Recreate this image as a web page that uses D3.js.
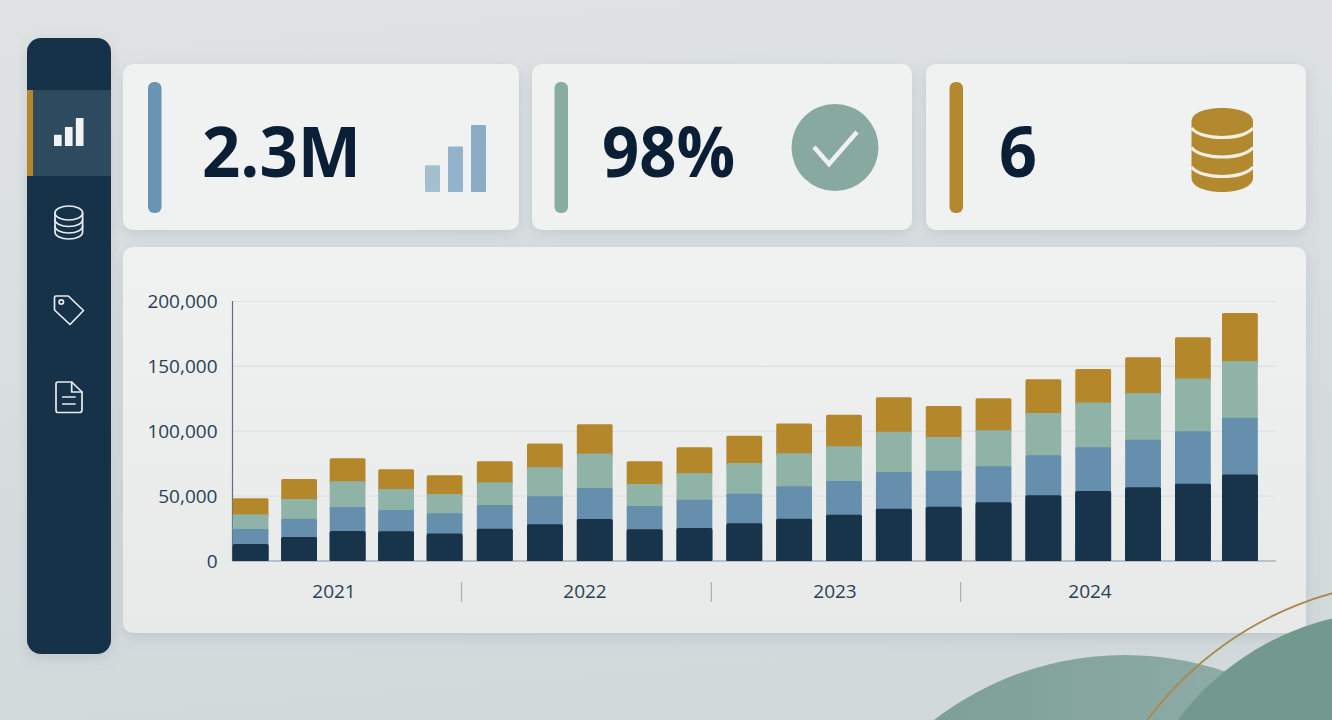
<!DOCTYPE html>
<html lang="en">
<head>
    <meta charset="UTF-8">
    <title>Stacked Quarterly Dashboard</title>
    <script src="https://d3js.org/d3.v7.min.js"></script>
    <style>
        html, body { margin: 0; padding: 0; background: #dde2e3; overflow: hidden; }
        svg { display: block; }
        svg text { font-family: "Open Sans", sans-serif; }
        .kpi { font-weight: 700; fill: #0a1f36; font-size: 70px; }
        .tick text, .year { fill: #2c4054; font-size: 19px; }
        .domain { display: none; }
    </style>
</head>
<body>
    <svg id="chart" width="1332" height="720"></svg>

    <script>
        // Chart values
        const periods = d3.range(1, 22).map(d => "P" + d);
        const years = ["2021", "2022", "2023", "2024"];
        const yTicks = [0, 50000, 100000, 150000, 200000];
        const seriesNames = ["navy", "blue", "green", "gold"];

        const navy = [13100, 18500, 23100, 22900, 21100, 24900, 28300, 32400, 24400, 25400, 29000,
            32600, 35700, 40300, 41900, 45200, 50600, 54000, 56800, 59600, 66600];
        const blue = [11600, 14100, 18500, 16400, 15700, 18300, 21600, 23900, 18000, 21900, 22900,
            25000, 26000, 28300, 27700, 27800, 30900, 33600, 36700, 40400, 43900];
        const green = [11300, 15200, 19800, 16200, 14900, 17500, 22300, 26500, 17000, 20500, 23700,
            25400, 26700, 31100, 26000, 27700, 32600, 34500, 36000, 40600, 43700];
        const gold = [12300, 15400, 17800, 15200, 14300, 16100, 18300, 22600, 17400, 19800, 21000,
            22900, 24400, 26500, 23900, 24700, 26000, 25900, 27500, 31800, 37000];

        const kpiLabels = ["2.3M", "98%", "6"];
        const iconBars = [10, 17, 25];

        const colors = { navy: "#17344b", blue: "#668fae", green: "#8fb3a6", gold: "#b4872b" };

        const rows = periods.map((p, i) => ({
            period: p, navy: navy[i], blue: blue[i], green: green[i], gold: gold[i]
        }));

        const svg = d3.select("#chart");
        const defs = svg.append("defs");

        // Background and card gradients
        const bg = defs.append("linearGradient").attr("id", "bg")
            .attr("x1", 0).attr("y1", 0).attr("x2", 0.15).attr("y2", 1);
        bg.append("stop").attr("offset", 0).attr("stop-color", "#dfe3e4");
        bg.append("stop").attr("offset", 1).attr("stop-color", "#d2d9db");

        const card = defs.append("linearGradient").attr("id", "card")
            .attr("x1", 0).attr("y1", 0).attr("x2", 0).attr("y2", 1);
        card.append("stop").attr("offset", 0).attr("stop-color", "#f0f2f2");
        card.append("stop").attr("offset", 1).attr("stop-color", "#e8eaea");

        const blob = defs.append("linearGradient").attr("id", "blob")
            .attr("x1", 0).attr("y1", 0).attr("x2", 1).attr("y2", 0);
        blob.append("stop").attr("offset", 0.1).attr("stop-color", "#7c9c96");
        blob.append("stop").attr("offset", 0.55).attr("stop-color", "#88a8a1");
        blob.append("stop").attr("offset", 0.85).attr("stop-color", "#9ab3ad");

        const shadow = defs.append("filter").attr("id", "shadow")
            .attr("x", "-10%").attr("y", "-10%").attr("width", "120%").attr("height", "125%");
        shadow.append("feDropShadow").attr("dx", 0).attr("dy", 4)
            .attr("stdDeviation", 7).attr("flood-color", "#6f8189").attr("flood-opacity", 0.22);

        svg.append("rect").attr("width", 1332).attr("height", 720).attr("fill", "url(#bg)");

        // Left blob sits behind the cards
        svg.append("circle").attr("cx", 1125).attr("cy", 968).attr("r", 313).attr("fill", "url(#blob)");

        // Sidebar
        svg.append("rect").attr("x", 27).attr("y", 38).attr("width", 84).attr("height", 616)
            .attr("rx", 14).attr("fill", "#16334a").attr("filter", "url(#shadow)");
        svg.append("rect").attr("x", 27).attr("y", 90).attr("width", 84).attr("height", 86).attr("fill", "#2e4a5e");
        svg.append("rect").attr("x", 27).attr("y", 90).attr("width", 6).attr("height", 86).attr("fill", "#b4872b");

        const sideBars = d3.scaleBand().domain(iconBars).range([54, 83.5]).paddingInner(0.3);
        const sideY = d3.scaleLinear().domain([0, 25]).range([146, 118]);
        svg.append("g").selectAll("rect").data(iconBars).join("rect")
            .attr("x", d => sideBars(d)).attr("width", sideBars.bandwidth())
            .attr("y", d => sideY(d)).attr("height", d => 146 - sideY(d))
            .attr("fill", "#f2f3f3");

        const line = svg.append("g").attr("fill", "none").attr("stroke", "#e8ecee").attr("stroke-width", 1.7)
            .attr("stroke-linejoin", "round").attr("stroke-linecap", "round");
        line.append("ellipse").attr("cx", 68.8).attr("cy", 213).attr("rx", 13.8).attr("ry", 7);
        line.append("path").attr("d", "M55,213V232C55,236 61,239 68.8,239C76.6,239 82.6,236 82.6,232V213");
        line.append("path").attr("d", "M55,219.5C55,223.5 61,226.5 68.8,226.5C76.6,226.5 82.6,223.5 82.6,219.5");
        line.append("path").attr("d", "M55,226C55,230 61,233 68.8,233C76.6,233 82.6,230 82.6,226");
        line.append("path").attr("d", "M54.5,297.5Q54.5,296 56,296H68.3L83.5,310.5L70,324.5L54.5,310Z");
        line.append("circle").attr("cx", 61.3).attr("cy", 302).attr("r", 2.2);
        line.append("path").attr("d", "M58,382H71.7L82,392V410Q82,412.5 79.5,412.5H58Q56,412.5 56,410V384Q56,382 58,382Z");
        line.append("path").attr("d", "M71.7,382V392H82M62.7,397H75M62.7,404H75");

        // KPI cards
        const kpiCards = svg.append("g");
        const cardX = d3.scaleOrdinal(kpiLabels, [123, 532, 926]);
        const cardW = d3.scaleOrdinal(kpiLabels, [396, 380, 380]);
        const accentX = d3.scaleOrdinal(kpiLabels, [148, 554.5, 949.5]);
        const accentC = d3.scaleOrdinal(kpiLabels, ["#6a94b3", "#87aca0", "#b3892f"]);
        const textX = d3.scaleOrdinal(kpiLabels, [202, 602, 999]);
        const textW = d3.scaleOrdinal(kpiLabels, [159, 133, 38]);

        kpiCards.selectAll("rect.bg").data(kpiLabels).join("rect").attr("class", "bg")
            .attr("x", d => cardX(d)).attr("y", 64).attr("width", d => cardW(d)).attr("height", 166)
            .attr("rx", 10).attr("fill", "#f0f2f2").attr("filter", "url(#shadow)");
        kpiCards.selectAll("rect.accent").data(kpiLabels).join("rect").attr("class", "accent")
            .attr("x", d => accentX(d)).attr("y", 82).attr("width", 13.5).attr("height", 131)
            .attr("rx", 6).attr("fill", d => accentC(d));
        kpiCards.selectAll("text").data(kpiLabels).join("text").attr("class", "kpi")
            .attr("x", d => textX(d)).attr("y", 177)
            .attr("textLength", d => textW(d)).attr("lengthAdjust", "spacingAndGlyphs")
            .text(d => d);

        // Small bars in the first card
        const cardBars = d3.scaleBand().domain(iconBars).range([425, 486]).paddingInner(0.348);
        const cardBarY = d3.scaleLinear().domain([0, 25]).range([192, 125]);
        const cardBarC = d3.scaleOrdinal(iconBars, ["#a6bfcf", "#94b2c9", "#8cacc5"]);
        svg.append("g").selectAll("rect").data(iconBars).join("rect")
            .attr("x", d => cardBars(d)).attr("width", cardBars.bandwidth())
            .attr("y", d => cardBarY(d)).attr("height", d => 192 - cardBarY(d))
            .attr("rx", 1).attr("fill", d => cardBarC(d));

        // Check icon
        svg.append("circle").attr("cx", 835).attr("cy", 147.5).attr("r", 43.5).attr("fill", "#87a99f");
        svg.append("path").attr("d", "M814,147L829,164L857,132").attr("fill", "none")
            .attr("stroke", "#eef1f0").attr("stroke-width", 4.5);

        // Gold database icon
        svg.append("path").attr("fill", "#b3892f")
            .attr("d", "M1191.5,121.5C1191.5,113 1205,108 1222,108C1239,108 1253,113 1253,121.5V178C1253,186.5 1239,192 1222,192C1205,192 1191.5,186.5 1191.5,178Z");
        const coin = svg.append("g").attr("fill", "none").attr("stroke", "#f3efe3").attr("stroke-width", 3);
        [0, 19.5, 39].forEach(dy => {
            coin.append("path").attr("d", `M1191.5,${128 + dy}C1196,${134 + dy} 1208,${137.5 + dy} 1222,${137.5 + dy}C1236,${137.5 + dy} 1248,${134 + dy} 1253,${128 + dy}`);
        });

        // Main chart card
        svg.append("rect").attr("x", 123).attr("y", 247).attr("width", 1183).attr("height", 386)
            .attr("rx", 10).attr("fill", "url(#card)").attr("filter", "url(#shadow)");

        // Scales. The bars are a little tighter in the first year, hence the piecewise x scale
        const barW = 35.8;
        const xIndex = d3.scaleLinear().domain([0, 4, 6, 19, 20]).range([232.7, 426.7, 527, 1175, 1222]);
        const x = p => xIndex(periods.indexOf(p));
        const y = d3.scaleLinear().domain([0, 200000]).range([561, 301.5]);

        // Gridlines
        svg.append("g").selectAll("line").data(yTicks.slice(1)).join("line")
            .attr("x1", 232.5).attr("x2", 1276)
            .attr("y1", d => y(d)).attr("y2", d => y(d))
            .attr("stroke", "#dbe0e4").attr("stroke-width", 1.2);

        // Axes go under the bars
        svg.append("g").attr("transform", "translate(225.5,0)")
            .call(d3.axisLeft(y).tickValues(yTicks).tickFormat(d3.format(",")).tickSize(0).tickPadding(8));
        svg.append("line").attr("x1", 232.5).attr("x2", 232.5).attr("y1", 301).attr("y2", 561)
            .attr("stroke", "#5e6f7e").attr("stroke-width", 1.2);
        svg.append("line").attr("x1", 232).attr("x2", 1276).attr("y1", 561).attr("y2", 561)
            .attr("stroke", "#8a97a3").attr("stroke-width", 1.2);

        // Stacked bars, top series first so the rounded gold corners stay on top only
        const stacked = d3.stack().keys(seriesNames)(rows);
        svg.append("g").selectAll("g").data(stacked.slice().reverse()).join("g")
            .attr("fill", d => colors[d.key])
            .selectAll("rect").data(d => d).join("rect")
            .attr("x", d => x(d.data.period))
            .attr("width", barW)
            .attr("y", d => y(d[1]))
            .attr("height", d => Math.min(y(d[0]) - y(d[1]) + 3, y(0) - y(d[1])))
            .attr("rx", 1.5);
        // Square the navy feet against the baseline
        svg.append("g").attr("fill", colors.navy).selectAll("rect").data(rows).join("rect")
            .attr("x", d => x(d.period)).attr("width", barW)
            .attr("y", d => y(d.navy) + 2).attr("height", d => y(0) - y(d.navy) - 2);

        // Year labels and separators
        const yearX = d3.scaleOrdinal(years, [334, 585, 835, 1090]);
        svg.append("g").selectAll("text").data(years).join("text").attr("class", "year")
            .attr("x", d => yearX(d)).attr("y", 598).attr("text-anchor", "middle").text(d => d);
        svg.append("g").selectAll("line").data(["P5", "P10", "P15"]).join("line")
            .attr("x1", d => x(d) + barW - 1).attr("x2", d => x(d) + barW - 1)
            .attr("y1", 582).attr("y2", 602)
            .attr("stroke", "#a5b0b7").attr("stroke-width", 1.2);

        // Foreground decoration
        svg.append("circle").attr("cx", 1395).attr("cy", 882).attr("r", 271).attr("fill", "#73988d");
        svg.append("circle").attr("cx", 1425).attr("cy", 926.5).attr("r", 346)
            .attr("fill", "none").attr("stroke", "#a8894a").attr("stroke-width", 1.8);
    </script>
</body>
</html>
